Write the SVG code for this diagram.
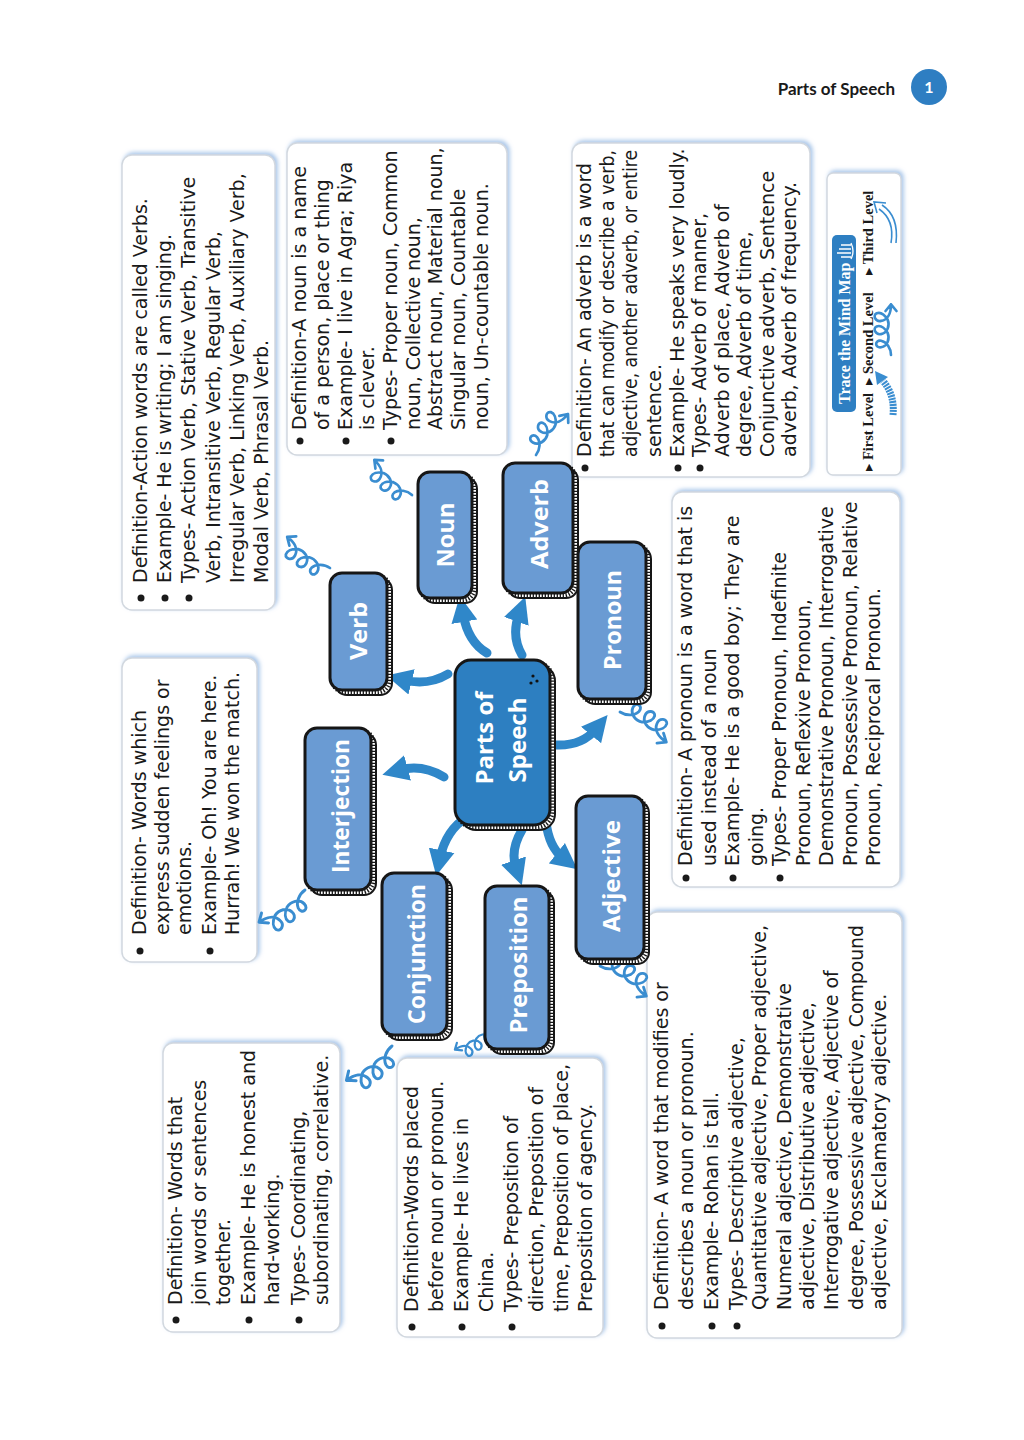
<svg xmlns="http://www.w3.org/2000/svg" xmlns:xlink="http://www.w3.org/1999/xlink" width="1024" height="1440" viewBox="0 0 1024 1440">
<style>
.t{font-family:"DejaVu Sans","Liberation Sans",sans-serif;font-size:19px;fill:#1a1a1a}
.box{fill:#fff;stroke:#d2d8df;stroke-width:1.5}
.bul{fill:#1a1a1a}
.nd{fill:#6a9bd3;stroke:#161616;stroke-width:3}
.ndc{fill:#2d7fc1;stroke:#161616;stroke-width:3}
.hb{fill:#fff;stroke:#161616;stroke-width:2}
.hh{fill:none;stroke:#161616;stroke-width:4;stroke-dasharray:1.3 1.7}
.lbl{font-family:"Open Sans","DejaVu Sans",sans-serif;font-weight:700;font-size:24px;fill:#fff;text-anchor:middle}
.arr{fill:none;stroke:#2f87c9;stroke-width:9;stroke-linecap:round}
.curl{fill:none;stroke:#3a8dd0;stroke-width:2.4;stroke-linecap:round;stroke-linejoin:round}
.lg{font-family:"Liberation Serif","DejaVu Serif",serif;font-weight:700;font-size:14.5px;fill:#1a1a1a}
</style>
<defs>
<filter id="sh" x="-10%" y="-10%" width="120%" height="120%">
<feDropShadow dx="2" dy="-2" stdDeviation="2" flood-color="#9fbfe6" flood-opacity="0.9"/>
</filter>
<marker id="ah" viewBox="0 0 10 10" refX="3" refY="5" markerWidth="2.9" markerHeight="3.1" orient="auto" markerUnits="strokeWidth">
<path d="M0,0 L10,5 L0,10 z" fill="#2f87c9"/>
</marker>
<path id="curl" class="curl" d="M0,0 C6,0 12,-4 13,-9 C14,-15 6,-15 7,-9 C8,-3 15,-1 20,-3 C25,-6 27,-10 26,-13 C24,-17 18,-14 19,-9 C20,-3 27,-1 32,-3 C37,-6 39,-10 38,-13 C36,-17 30,-14 31,-9 C32,-3 38,0 46,0 M40,-5 L46,0 L40,5"/>
</defs>
<rect width="1024" height="1440" fill="#fff"/>

<!-- header -->
<g id="header">
<text x="895" y="95" text-anchor="end" font-family="Lato,'Liberation Sans',sans-serif" font-weight="700" font-size="17" fill="#1a1a1a">Parts of Speech</text>
<circle cx="929" cy="87" r="18" fill="#2e7ec2"/>
<text x="929" y="93" text-anchor="middle" font-family="Lato,'Liberation Sans',sans-serif" font-weight="700" font-size="16" fill="#fff">1</text>
</g>

<!-- description boxes -->
<g id="verb-desc">
<rect class="box" filter="url(#sh)" x="122" y="155" width="153" height="455" rx="10"/>
<g transform="translate(122,610) rotate(-90)">
<circle class="bul" cx="12" cy="19" r="3.5"/><circle class="bul" cx="12" cy="43" r="3.5"/><circle class="bul" cx="12" cy="67" r="3.5"/>
<text class="t" x="27" y="25">Definition-Action words are called Verbs.</text>
<text class="t" x="27" y="49">Example- He is writing; I am singing.</text>
<text class="t" x="27" y="73">Types- Action Verb, Stative Verb, Transitive</text>
<text class="t" x="27" y="98">Verb, Intransitive Verb, Regular Verb,</text>
<text class="t" x="27" y="122">Irregular Verb, Linking Verb, Auxiliary Verb,</text>
<text class="t" x="27" y="146">Modal Verb, Phrasal Verb.</text>
</g>
</g>

<g id="noun-desc">
<rect class="box" filter="url(#sh)" x="287" y="143" width="220" height="312" rx="10"/>
<g transform="translate(287,455) rotate(-90)">
<circle class="bul" cx="14" cy="13" r="3.5"/><circle class="bul" cx="14" cy="59" r="3.5"/><circle class="bul" cx="14" cy="104" r="3.5"/>
<text class="t" x="25" y="19">Definition-A noun is a name</text>
<text class="t" x="25" y="42">of a person, place or thing</text>
<text class="t" x="25" y="65">Example- I live in Agra; Riya</text>
<text class="t" x="25" y="87">is clever.</text>
<text class="t" x="25" y="110">Types- Proper noun, Common</text>
<text class="t" x="25" y="133">noun, Collective noun,</text>
<text class="t" x="25" y="155">Abstract noun, Material noun,</text>
<text class="t" x="25" y="178">Singular noun, Countable</text>
<text class="t" x="25" y="201">noun, Un-countable noun.</text>
</g>
</g>

<g id="adverb-desc">
<rect class="box" filter="url(#sh)" x="572" y="143" width="238" height="334" rx="10"/>
<g transform="translate(572,477) rotate(-90)">
<circle class="bul" cx="9" cy="13" r="3.5"/><circle class="bul" cx="9" cy="106" r="3.5"/><circle class="bul" cx="9" cy="128" r="3.5"/>
<text class="t" x="20" y="19">Definition- An adverb is a word</text>
<text class="t" x="20" y="42" textLength="307" lengthAdjust="spacingAndGlyphs">that can modify or describe a verb,</text>
<text class="t" x="20" y="65" textLength="307" lengthAdjust="spacingAndGlyphs">adjective, another adverb, or entire</text>
<text class="t" x="20" y="89">sentence.</text>
<text class="t" x="20" y="112">Example- He speaks very loudly.</text>
<text class="t" x="20" y="134">Types- Adverb of manner,</text>
<text class="t" x="20" y="157">Adverb of place, Adverb of</text>
<text class="t" x="20" y="179">degree, Adverb of time,</text>
<text class="t" x="20" y="202">Conjunctive adverb, Sentence</text>
<text class="t" x="20" y="224">adverb, Adverb of frequency.</text>
</g>
</g>

<g id="legend">
<rect class="box" filter="url(#sh)" x="827" y="173" width="74" height="302" rx="6"/>
<g transform="translate(827,475) rotate(-90)">
<rect x="63" y="5" width="177" height="24" rx="5" fill="#2e7fc2"/>
<text x="71" y="23" font-family="'Liberation Serif',serif" font-weight="700" font-size="16" fill="#fff">Trace the Mind Map</text>
<path d="M218,24 L218,14 M222,24 L222,10 M226,24 L226,12 M230,24 L230,14 M216,24 Q224,28 232,24" fill="none" stroke="#fff" stroke-width="1.3"/>
<text class="lg" x="4" y="46">▸ First Level</text>
<text class="lg" x="90" y="46">▸ Second Level</text>
<text class="lg" x="200" y="46">▸ Third Level</text>
<path d="M60,66 Q80,68 94,56" fill="none" stroke="#3a8dd0" stroke-width="7" stroke-dasharray="2 1"/>
<path d="M90,50 L104,48 L98,61 z" fill="#3a8dd0"/>
<use xlink:href="#curl" href="#curl" transform="translate(120,64) scale(1.1)"/>
<path d="M232,64 Q255,68 266,52 M232,69 Q259,72 270,55 M262,50 L273,47 L272,59" fill="none" stroke="#3a8dd0" stroke-width="1.6"/>
</g>
</g>

<g id="interjection-desc">
<rect class="box" filter="url(#sh)" x="122" y="658" width="135" height="304" rx="10"/>
<g transform="translate(122,962) rotate(-90)">
<circle class="bul" cx="11" cy="18" r="3.5"/><circle class="bul" cx="11" cy="88" r="3.5"/>
<text class="t" x="27" y="24">Definition- Words which</text>
<text class="t" x="27" y="47">express sudden feelings or</text>
<text class="t" x="27" y="69">emotions.</text>
<text class="t" x="27" y="94">Example- Oh! You are here.</text>
<text class="t" x="27" y="117">Hurrah! We won the match.</text>
</g>
</g>

<g id="pronoun-desc">
<rect class="box" filter="url(#sh)" x="672" y="492" width="228" height="395" rx="10"/>
<g transform="translate(672,887) rotate(-90)">
<circle class="bul" cx="9" cy="14" r="3.5"/><circle class="bul" cx="9" cy="61" r="3.5"/><circle class="bul" cx="9" cy="108" r="3.5"/>
<text class="t" x="21" y="20">Definition- A pronoun is a word that is</text>
<text class="t" x="21" y="43.5">used instead of a noun</text>
<text class="t" x="21" y="67">Example- He is a good boy; They are</text>
<text class="t" x="21" y="90.5">going.</text>
<text class="t" x="21" y="114">Types- Proper Pronoun, Indefinite</text>
<text class="t" x="21" y="137.5">Pronoun, Reflexive Pronoun,</text>
<text class="t" x="21" y="161">Demonstrative Pronoun, Interrogative</text>
<text class="t" x="21" y="184.5">Pronoun, Possessive Pronoun, Relative</text>
<text class="t" x="21" y="208">Pronoun, Reciprocal Pronoun.</text>
</g>
</g>

<g id="conjunction-desc">
<rect class="box" filter="url(#sh)" x="163" y="1043" width="177" height="289" rx="10"/>
<g transform="translate(163,1332) rotate(-90)">
<circle class="bul" cx="12" cy="13" r="3.5"/><circle class="bul" cx="12" cy="86" r="3.5"/><circle class="bul" cx="12" cy="136" r="3.5"/>
<text class="t" x="27" y="19">Definition- Words that</text>
<text class="t" x="27" y="43">join words or sentences</text>
<text class="t" x="27" y="67">together.</text>
<text class="t" x="27" y="92">Example- He is honest and</text>
<text class="t" x="27" y="116">hard-working.</text>
<text class="t" x="27" y="142">Types- Coordinating,</text>
<text class="t" x="27" y="165">subordinating, correlative.</text>
</g>
</g>

<g id="preposition-desc">
<rect class="box" filter="url(#sh)" x="397" y="1058" width="206" height="279" rx="10"/>
<g transform="translate(397,1337) rotate(-90)">
<circle class="bul" cx="10" cy="15" r="3.5"/><circle class="bul" cx="10" cy="65" r="3.5"/><circle class="bul" cx="10" cy="115" r="3.5"/>
<text class="t" x="25" y="21">Definition-Words placed</text>
<text class="t" x="25" y="46">before noun or pronoun.</text>
<text class="t" x="25" y="71">Example- He lives in</text>
<text class="t" x="25" y="96">China.</text>
<text class="t" x="25" y="121">Types- Preposition of</text>
<text class="t" x="25" y="146">direction, Preposition of</text>
<text class="t" x="25" y="171">time, Preposition of place,</text>
<text class="t" x="25" y="195">Preposition of agency.</text>
</g>
</g>

<g id="adjective-desc">
<rect class="box" filter="url(#sh)" x="647" y="912" width="255" height="426" rx="10"/>
<g transform="translate(647,1338) rotate(-90)">
<circle class="bul" cx="12" cy="15" r="3.5"/><circle class="bul" cx="12" cy="65" r="3.5"/><circle class="bul" cx="12" cy="90" r="3.5"/>
<text class="t" x="28" y="21">Definition- A word that modifies or</text>
<text class="t" x="28" y="46">describes a noun or pronoun.</text>
<text class="t" x="28" y="71">Example- Rohan is tall.</text>
<text class="t" x="28" y="96">Types- Descriptive adjective,</text>
<text class="t" x="28" y="119" textLength="385" lengthAdjust="spacingAndGlyphs">Quantitative adjective, Proper adjective,</text>
<text class="t" x="28" y="144">Numeral adjective, Demonstrative</text>
<text class="t" x="28" y="167">adjective, Distributive adjective,</text>
<text class="t" x="28" y="191">Interrogative adjective, Adjective of</text>
<text class="t" x="28" y="216" textLength="385" lengthAdjust="spacingAndGlyphs">degree, Possessive adjective, Compound</text>
<text class="t" x="28" y="239">adjective, Exclamatory adjective.</text>
</g>
</g>

<!-- connectors -->
<g id="connectors">
<path class="arr" marker-end="url(#ah)" d="M448,674 Q428,686 404,680"/>
<path class="arr" marker-end="url(#ah)" d="M487,653 Q468,642 463,614"/>
<path class="arr" marker-end="url(#ah)" d="M522,655 Q511,636 519,614"/>
<path class="arr" marker-end="url(#ah)" d="M556,745 Q582,746 596,729"/>
<path class="arr" marker-end="url(#ah)" d="M444,777 Q422,764 400,770"/>
<path class="arr" marker-end="url(#ah)" d="M467,817 Q446,830 440,858"/>
<path class="arr" marker-end="url(#ah)" d="M522,830 Q510,850 516,868"/>
<path class="arr" marker-end="url(#ah)" d="M546,822 Q549,847 563,858"/>
<use xlink:href="#curl" href="#curl" transform="translate(330,568) rotate(216) scale(1.15)"/>
<use xlink:href="#curl" href="#curl" transform="translate(412,495) rotate(223) scale(1.12)"/>
<use xlink:href="#curl" href="#curl" transform="translate(536,455) rotate(-52) scale(1.13)"/>
<use xlink:href="#curl" href="#curl" transform="translate(620,712) rotate(33) scale(1.2)"/>
<use xlink:href="#curl" href="#curl" transform="translate(305,890) rotate(145) scale(1.22)"/>
<use xlink:href="#curl" href="#curl" transform="translate(392,1046) rotate(143) scale(1.24)"/>
<use xlink:href="#curl" href="#curl" transform="translate(490,1026) rotate(146) scale(0.92)"/>
<use xlink:href="#curl" href="#curl" transform="translate(600,966) rotate(33) scale(1.2)"/>
</g>

<!-- nodes -->
<g id="node-center">
<rect class="hb" x="460" y="665" width="95" height="165" rx="16"/>
<rect class="hh" x="457.5" y="662.5" width="95" height="165" rx="16"/>
<rect class="ndc" x="455" y="660" width="95" height="165" rx="16"/>
<circle cx="533" cy="676" r="1.6" fill="#111"/><circle cx="537" cy="681" r="1.6" fill="#111"/><circle cx="531" cy="683" r="1.6" fill="#111"/>
<text class="lbl" font-size="31" transform="translate(482,738) rotate(-90)" y="11">Parts of</text>
<text class="lbl" font-size="31" transform="translate(515,740) rotate(-90)" y="11">Speech</text>
</g>
<g id="node-verb">
<rect class="hb" x="335" y="578" width="57" height="117" rx="12"/>
<rect class="hh" x="332.5" y="575.5" width="57" height="117" rx="12"/>
<rect class="nd" x="330" y="573" width="57" height="117" rx="12"/>
<text class="lbl" transform="translate(358,631) rotate(-90)" y="9" textLength="58" lengthAdjust="spacingAndGlyphs">Verb</text>
</g>
<g id="node-noun">
<rect class="hb" x="423" y="477" width="54" height="126" rx="12"/>
<rect class="hh" x="420.5" y="474.5" width="54" height="126" rx="12"/>
<rect class="nd" x="418" y="472" width="54" height="126" rx="12"/>
<text class="lbl" transform="translate(445,535) rotate(-90)" y="9" textLength="65" lengthAdjust="spacingAndGlyphs">Noun</text>
</g>
<g id="node-adverb">
<rect class="hb" x="508" y="468" width="70" height="130" rx="12"/>
<rect class="hh" x="505.5" y="465.5" width="70" height="130" rx="12"/>
<rect class="nd" x="503" y="463" width="70" height="130" rx="12"/>
<text class="lbl" font-size="28" transform="translate(538,524) rotate(-90)" y="10" textLength="90" lengthAdjust="spacingAndGlyphs">Adverb</text>
</g>
<g id="node-pronoun">
<rect class="hb" x="583" y="547" width="68" height="157" rx="12"/>
<rect class="hh" x="580.5" y="544.5" width="68" height="157" rx="12"/>
<rect class="nd" x="578" y="542" width="68" height="157" rx="12"/>
<text class="lbl" transform="translate(612,620) rotate(-90)" y="9" textLength="100" lengthAdjust="spacingAndGlyphs">Pronoun</text>
</g>
<g id="node-interjection">
<rect class="hb" x="310" y="733" width="66" height="162" rx="12"/>
<rect class="hh" x="307.5" y="730.5" width="66" height="162" rx="12"/>
<rect class="nd" x="305" y="728" width="66" height="162" rx="12"/>
<text class="lbl" font-size="27" transform="translate(339,806) rotate(-90)" y="10" textLength="134" lengthAdjust="spacingAndGlyphs">Interjection</text>
</g>
<g id="node-conjunction">
<rect class="hb" x="387" y="878" width="65" height="162" rx="12"/>
<rect class="hh" x="384.5" y="875.5" width="65" height="162" rx="12"/>
<rect class="nd" x="382" y="873" width="65" height="162" rx="12"/>
<text class="lbl" font-size="27" transform="translate(415,954) rotate(-90)" y="10" textLength="140" lengthAdjust="spacingAndGlyphs">Conjunction</text>
</g>
<g id="node-preposition">
<rect class="hb" x="490" y="891" width="64" height="163" rx="12"/>
<rect class="hh" x="487.5" y="888.5" width="64" height="163" rx="12"/>
<rect class="nd" x="485" y="886" width="64" height="163" rx="12"/>
<text class="lbl" font-size="27" transform="translate(517,965) rotate(-90)" y="10" textLength="137" lengthAdjust="spacingAndGlyphs">Preposition</text>
</g>
<g id="node-adjective">
<rect class="hb" x="581" y="801" width="68" height="163" rx="12"/>
<rect class="hh" x="578.5" y="798.5" width="68" height="163" rx="12"/>
<rect class="nd" x="576" y="796" width="68" height="163" rx="12"/>
<text class="lbl" font-size="27" transform="translate(610,876) rotate(-90)" y="10" textLength="112" lengthAdjust="spacingAndGlyphs">Adjective</text>
</g>
</svg>
